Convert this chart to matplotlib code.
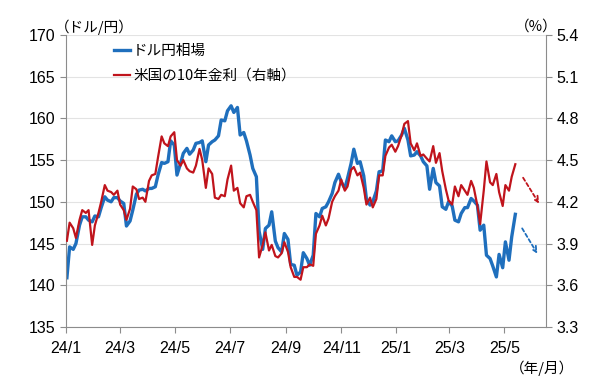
import matplotlib
matplotlib.use("Agg")
import matplotlib.pyplot as plt
import matplotlib.dates as mdates
import matplotlib.ticker as mticker
import pandas as pd

plt.rcParams['font.family'] = ['Noto Sans CJK JP', 'DejaVu Sans']

# twice-weekly samples (Tue / Fri), 2024/1/2 - 2025/5/13
tue = pd.date_range('2024-01-02', '2025-05-13', freq='W-TUE')
fri = pd.date_range('2024-01-05', '2025-05-09', freq='W-FRI')
dates = tue.union(fri)

usdjpy = [
    140.9, 144.6, 144.3, 145.0, 147.2, 148.2, 148.2, 147.8, 147.6, 148.3,
    148.2, 149.3, 150.6, 150.2, 150.0, 150.5, 150.5, 150.1, 149.8, 147.1,
    147.7, 149.0, 150.9, 151.4, 151.5, 151.3, 151.6, 151.6, 151.8, 153.2,
    154.7, 154.6, 154.8, 157.3, 156.8, 153.2, 154.6, 155.8, 156.4, 155.7,
    156.2, 157.0, 157.1, 157.3, 154.8, 156.8, 157.2, 157.4, 157.9, 159.8,
    159.7, 160.9, 161.5, 160.7, 161.3, 158.0, 158.3, 157.3, 155.6, 154.0,
    153.0, 146.5, 144.3, 146.8, 147.2, 148.8, 145.3, 144.5, 144.0, 146.2,
    145.5, 142.5, 142.4, 141.2, 141.6, 143.9, 143.2, 142.4, 143.6, 148.6,
    148.2, 149.2, 149.4, 150.0, 151.0, 152.3, 153.3, 152.4, 151.6, 152.8,
    154.6, 156.3, 154.6, 154.8, 153.1, 150.3, 149.6, 150.0, 151.3, 153.6,
    153.7, 157.4, 157.2, 157.9, 157.2, 157.3, 158.0, 158.8, 157.4, 155.5,
    155.6, 156.0, 155.5, 154.8, 154.3, 151.5, 154.0, 152.3, 151.9, 149.4,
    149.1, 150.0, 149.5, 147.8, 147.6, 148.6, 149.3, 149.3, 150.4, 150.1,
    149.6, 146.6, 147.2, 143.6, 143.2, 142.3, 141.0, 143.7, 142.1, 145.2,
    143.0, 145.8, 148.5,
]

us10y = [
    3.92, 4.05, 4.01, 3.94, 4.07, 4.14, 4.12, 4.14, 3.89, 4.03,
    4.12, 4.20, 4.32, 4.28, 4.27, 4.25, 4.28, 4.18, 4.14, 4.07,
    4.15, 4.31, 4.29, 4.22, 4.23, 4.20, 4.35, 4.39, 4.40, 4.52,
    4.67, 4.62, 4.60, 4.67, 4.70, 4.50, 4.46, 4.50, 4.44, 4.42,
    4.41, 4.46, 4.58, 4.50, 4.30, 4.44, 4.40, 4.23, 4.22, 4.25,
    4.24, 4.36, 4.46, 4.28, 4.30, 4.19, 4.16, 4.24, 4.25, 4.20,
    4.14, 3.80, 3.89, 3.98, 3.85, 3.89, 3.81, 3.80, 3.83, 3.91,
    3.84, 3.73, 3.66, 3.66, 3.64, 3.73, 3.73, 3.75, 3.74, 3.97,
    4.03, 4.10, 4.03, 4.08, 4.20, 4.24, 4.28, 4.36, 4.28, 4.31,
    4.43, 4.45, 4.39, 4.41, 4.30, 4.18, 4.23, 4.16, 4.22, 4.39,
    4.39, 4.53, 4.59, 4.61, 4.56, 4.60, 4.68, 4.76, 4.78, 4.62,
    4.57, 4.62, 4.53, 4.54, 4.51, 4.49, 4.60, 4.48, 4.55, 4.42,
    4.29, 4.21, 4.18, 4.31, 4.24, 4.32, 4.28, 4.25, 4.35, 4.30,
    4.17, 4.04, 4.28, 4.49, 4.34, 4.32, 4.40, 4.27, 4.17, 4.32,
    4.28, 4.38, 4.47,
]

BLUE = '#1f6fbd'
RED = '#c0141c'
GRAY = '#8c8c8c'
TICKFONT = ['Liberation Sans', 'Noto Sans CJK JP']

fig = plt.figure(figsize=(6, 3.87), dpi=100)
ax = fig.add_axes([0.11, 0.155, 0.80, 0.755])
ax2 = ax.twinx()

l1, = ax.plot(dates, usdjpy, color=BLUE, lw=2.4, label='ドル円相場')
l2, = ax2.plot(dates, us10y, color=RED, lw=1.6, label='米国の10年金利（右軸）')

ax.set_ylim(135, 170)
ax.set_yticks(range(135, 171, 5))
ax2.set_ylim(3.3, 5.4)
ax2.set_yticks([3.3, 3.6, 3.9, 4.2, 4.5, 4.8, 5.1, 5.4])
ax2.yaxis.set_major_formatter(mticker.FormatStrFormatter('%.1f'))

ax.set_xlim(pd.Timestamp('2024-01-01'), pd.Timestamp('2025-06-16'))
ax.xaxis.set_major_locator(mdates.MonthLocator(bymonth=[1, 3, 5, 7, 9, 11]))
ax.xaxis.set_major_formatter(
    mticker.FuncFormatter(lambda v, p: '%d/%d' % (mdates.num2date(v).year % 100,
                                                  mdates.num2date(v).month)))

ax.yaxis.grid(True, color='#e3e3e3', lw=0.8)
ax.set_axisbelow(True)

for a in (ax, ax2):
    a.spines['top'].set_visible(False)
    for s in ('left', 'right', 'bottom'):
        a.spines[s].set_color(GRAY)
    a.tick_params(colors=GRAY, labelcolor='black', length=4)
ax.spines['right'].set_visible(False)
ax2.spines['left'].set_visible(False)
ax2.spines['bottom'].set_visible(False)
ax.tick_params(axis='x', pad=6)

for lab in ax.get_yticklabels() + ax.get_xticklabels():
    lab.set_fontfamily(TICKFONT)
    lab.set_fontsize(11.5)
for lab in ax2.get_yticklabels():
    lab.set_fontfamily(TICKFONT)
    lab.set_fontsize(11.5)

# dashed outlook arrows
ax2.annotate('', xy=(pd.Timestamp('2025-06-10'), 4.17),
             xytext=(pd.Timestamp('2025-05-20'), 4.39),
             arrowprops=dict(arrowstyle='->', color=RED, lw=1.3, linestyle=(0, (2, 1.5))))
ax.annotate('', xy=(pd.Timestamp('2025-06-08'), 143.5),
            xytext=(pd.Timestamp('2025-05-19'), 147.1),
            arrowprops=dict(arrowstyle='->', color=BLUE, lw=1.3, linestyle=(0, (2, 1.5))))

ax2.legend(handles=[l1, l2], loc='upper left', bbox_to_anchor=(0.178, 0.905),
           bbox_transform=fig.transFigure, frameon=False, fontsize=10.5,
           handlelength=1.1, handletextpad=0.2, labelspacing=0.75, borderpad=0)

fig.text(0.158, 0.93, '（ドル/円）', fontsize=10.5, va='center', ha='center')
fig.text(0.893, 0.93, '（%）', fontsize=10.5, va='center', ha='center')
fig.text(0.903, 0.049, '（年/月）', fontsize=10.5, va='center', ha='center')

fig.savefig('out.png', dpi=100)
